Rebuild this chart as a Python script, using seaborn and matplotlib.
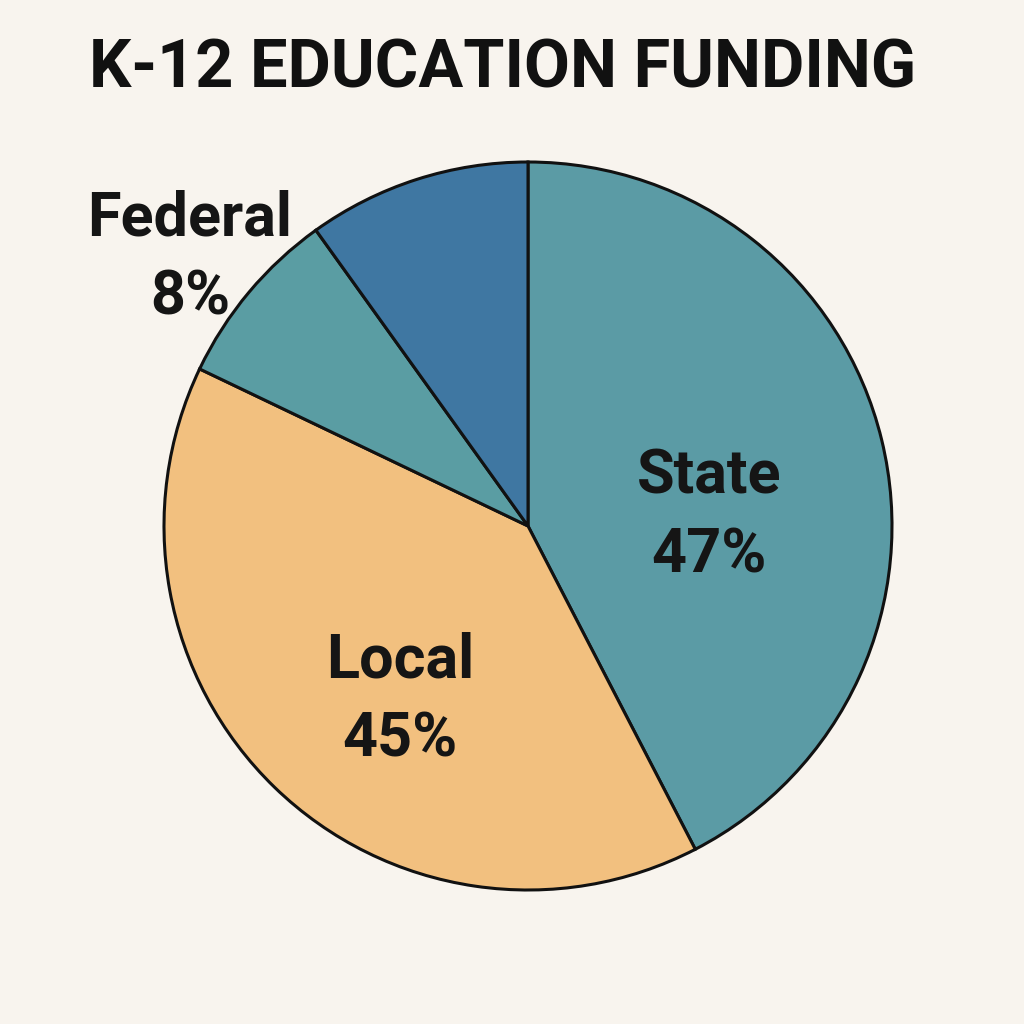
import matplotlib
matplotlib.use("Agg")
import matplotlib.pyplot as plt
import seaborn as sns

# Data
categories = ["State", "Local", "Federal", "Other federal"]
wedge_sizes = [42.4, 39.7, 8.0, 9.9]          # angular shares as drawn
label_texts = ["State\n47%", "Local\n45%", "Federal\n8%", ""]
colors = ["#5B9BA5", "#F2C07F", "#5A9DA3", "#3F77A2"]

sns.set_theme(style="white")
plt.rcParams["font.family"] = ["Roboto", "DejaVu Sans"]

bg = "#F8F4EE"
fig = plt.figure(figsize=(10.24, 10.24), dpi=100, facecolor=bg)

cx, cy, r = 528, 526, 364
ax = fig.add_axes([(cx - r) / 1024, (1024 - cy - r) / 1024, 2 * r / 1024, 2 * r / 1024])
ax.set_facecolor(bg)
wedges, _ = ax.pie(
    wedge_sizes,
    colors=colors,
    startangle=90,
    counterclock=False,
    radius=1,
    wedgeprops=dict(edgecolor="#111111", linewidth=2.2),
)
ax.set_xlim(-1, 1)
ax.set_ylim(-1, 1)
ax.set_aspect("equal")
ax.axis("off")

def px(x, y):
    return ((x - cx) / r, (cy - y) / r)

txt_kw = dict(ha="center", va="center", fontweight="bold", color="#151515",
              fontsize=44, linespacing=1.45)
ax.text(*px(709, 516), label_texts[0], **txt_kw)
ax.text(*px(400, 700), label_texts[1], **txt_kw)
ax.text(*px(190, 258), label_texts[2], clip_on=False, **txt_kw)

fig.text(0.491, 1 - 69 / 1024, "K-12 EDUCATION FUNDING",
         ha="center", va="center", fontsize=48, fontweight="bold",
         color="#111111")

fig.savefig("out.png", dpi=100, facecolor=bg)
